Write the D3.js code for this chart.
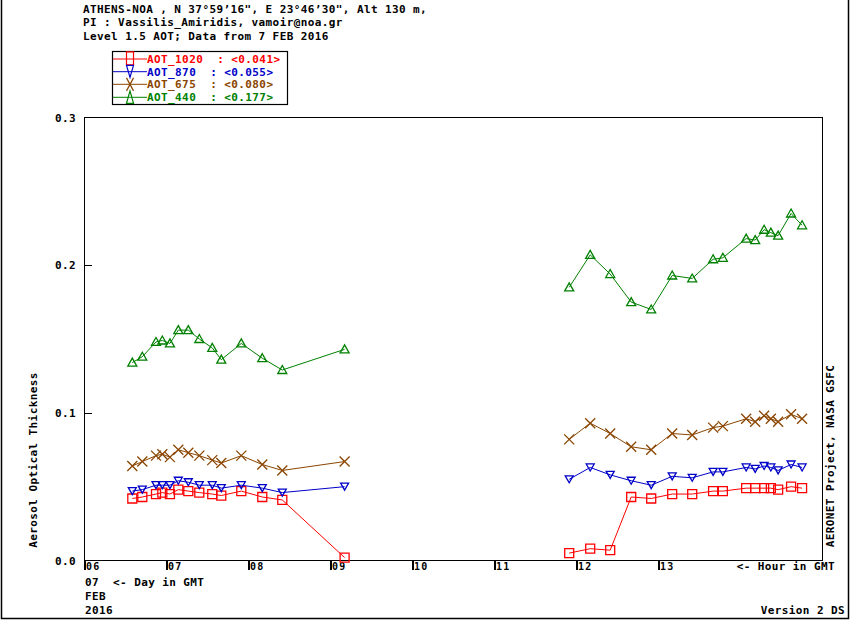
<!DOCTYPE html>
<html>
<head>
<meta charset="utf-8">
<script src="https://cdn.jsdelivr.net/npm/d3@7"></script>
<style>
  body { margin: 0; background: #fff; }
  svg text { font-family: "DejaVu Sans Mono", monospace; font-weight: bold; font-size: 11px; letter-spacing: 0.4px; white-space: pre; }
</style>
</head>
<body>
<svg id="graph" width="850" height="620" xml:space="preserve"></svg>
<script>
/*******************************************************************************************/
// Data (hour of 7 FEB 2016 in GMT, AOT per wavelength)

var hours = [6.583, 6.705, 6.872, 6.949, 7.042, 7.144, 7.266, 7.400, 7.558, 7.668, 7.912, 8.168, 8.412, 9.172,
             11.911, 12.167, 12.411, 12.667, 12.911, 13.167, 13.411, 13.666, 13.785, 14.069, 14.179, 14.288, 14.370, 14.459, 14.617, 14.751];

var aot1020 = [0.042, 0.043, 0.045, 0.046, 0.045, 0.048, 0.047, 0.046, 0.045, 0.044, 0.047, 0.043, 0.041, 0.002,
               0.005, 0.008, 0.007, 0.043, 0.042, 0.045, 0.045, 0.047, 0.047, 0.049, 0.049, 0.049, 0.049, 0.048, 0.050, 0.049];
var aot870  = [0.047, 0.048, 0.051, 0.051, 0.051, 0.054, 0.053, 0.051, 0.051, 0.049, 0.051, 0.049, 0.046, 0.050,
               0.055, 0.063, 0.058, 0.054, 0.051, 0.057, 0.056, 0.060, 0.060, 0.063, 0.062, 0.064, 0.063, 0.061, 0.065, 0.063];
var aot675  = [0.064, 0.067, 0.071, 0.072, 0.070, 0.075, 0.073, 0.071, 0.068, 0.066, 0.071, 0.065, 0.061, 0.067,
               0.082, 0.093, 0.086, 0.077, 0.075, 0.086, 0.085, 0.090, 0.091, 0.096, 0.094, 0.098, 0.096, 0.094, 0.099, 0.096];
var aot440  = [0.134, 0.138, 0.148, 0.149, 0.147, 0.156, 0.156, 0.150, 0.144, 0.136, 0.147, 0.137, 0.129, 0.143,
               0.185, 0.207, 0.194, 0.175, 0.170, 0.193, 0.191, 0.204, 0.205, 0.218, 0.217, 0.224, 0.222, 0.220, 0.235, 0.227];

var seriesNames = ['AOT_1020', 'AOT_870', 'AOT_675', 'AOT_440'];
var seriesMeans = ['0.041', '0.055', '0.080', '0.177'];
var seriesColors = ['#ff0000', '#0000c8', '#8a4500', '#008000'];

var hourTicks = [6, 7, 8, 9, 10, 11, 12, 13];
var hourLabels = ['06', '07', '08', '09', '10', '11', '12', '13'];
var yTicks = [0.0, 0.1, 0.2, 0.3];

var headerLines = ['ATHENS-NOA , N 37\u00b059\u201916", E 23\u00b046\u201930", Alt 130 m,',
                   'PI : Vassilis_Amiridis, vamoir@noa.gr',
                   'Level 1.5 AOT; Data from 7 FEB 2016'];

/*******************************************************************************************/
// Scales, marker shapes

var svg = d3.select('#graph');
var xScale = d3.scaleLinear().domain([6, 15]).range([84.5, 822.5]);
var yScale = d3.scaleLinear().domain([0, 0.3]).range([560.5, 117.5]);

var markers = [
  'M-4.5,-4.5h9v9h-9Z',          // square
  'M-4,-3.5L4,-3.5L0,3.5Z',      // down triangle
  'M-5,-5L5,5M-5,5L5,-5',        // cross
  'M0,-4.5L4.5,3.5L-4.5,3.5Z'    // up triangle
];
var legendMarkers = [
  'M-3.5,-6.5h7v13h-7Z',
  'M-3.5,-6L3.5,-6L0,6Z',
  'M-3.5,-6.5L3.5,6.5M-3.5,6.5L3.5,-6.5',
  'M0,-6.5L3.5,6L-3.5,6Z'
];

var allSeries = [aot1020, aot870, aot675, aot440];
var lineGen = d3.line().x(function(d){ return xScale(d.h) }).y(function(d){ return yScale(d.v) });

/*******************************************************************************************/
// Frame and header

svg.append('path').attr('d', 'M1.5,0V618.5H848.5V0')
   .style('fill', 'none').style('stroke', '#000').style('stroke-width', 1.5);

svg.selectAll('.header').data(headerLines).enter().append('text')
   .attr('x', 83).attr('y', function(d, i){ return 12.5 + i*13.5 }).text(function(d){ return d });

/*******************************************************************************************/
// Axes

svg.append('rect').attr('x', 84.5).attr('y', 117.5).attr('width', 738).attr('height', 443)
   .style('fill', 'none').style('stroke', '#000').style('stroke-width', 1.2).style('shape-rendering', 'crispEdges');

var yAxis = svg.append('g').attr('transform', 'translate(84.5,0)')
  .call(d3.axisRight(yScale).tickValues(yTicks.slice(1, 3)).tickSize(7).tickFormat(''));
yAxis.select('.domain').remove();
yAxis.selectAll('line').style('stroke-width', 1.2).style('shape-rendering', 'crispEdges');

svg.selectAll('.ylab').data(yTicks).enter().append('text')
   .attr('x', 76).attr('y', function(d){ return yScale(d) + 4 })
   .style('text-anchor', 'end').text(function(d){ return d.toFixed(1) });

var xAxis = svg.append('g').attr('transform', 'translate(0,560.5)')
  .call(d3.axisBottom(xScale).tickValues(hourTicks).tickSize(9).tickFormat(''));
xAxis.select('.domain').remove();
xAxis.selectAll('line').style('stroke-width', 1.2).style('shape-rendering', 'crispEdges');

svg.selectAll('.xlab').data(hourTicks).enter().append('text')
   .attr('x', function(d){ return xScale(d) + 1.5 }).attr('y', 570)
   .style('font-size', '10px').style('letter-spacing', '1.2px')
   .text(function(d, i){ return hourLabels[i] });

svg.append('text').attr('x', 835).attr('y', 570).style('text-anchor', 'end').text('<- Hour in GMT');
svg.append('text').attr('x', 85).attr('y', 586).text('07  <- Day in GMT');
svg.append('text').attr('x', 85).attr('y', 600).text('FEB');
svg.append('text').attr('x', 85).attr('y', 614).text('2016');
svg.append('text').attr('x', 845).attr('y', 614).style('text-anchor', 'end').text('Version 2 DS');

svg.append('text').attr('transform', 'translate(37,460) rotate(-90)')
   .style('text-anchor', 'middle').text('Aerosol Optical Thickness');
svg.append('text').attr('transform', 'translate(834,456) rotate(-90)')
   .style('text-anchor', 'middle').text('AERONET Project, NASA GSFC');

/*******************************************************************************************/
// Series: lines broken across the midday gap, then markers

allSeries.forEach(function(vals, k){
  var pts = hours.map(function(h, i){ return { h: h, v: vals[i] } });
  var segs = [[]];
  pts.forEach(function(p, i){
    if (i > 0 && p.h - pts[i-1].h > 2) segs.push([]);
    segs[segs.length-1].push(p);
  });

  var g = svg.append('g');
  g.selectAll('path.seg').data(segs).enter().append('path')
   .attr('d', lineGen).style('fill', 'none').style('stroke', seriesColors[k]).style('stroke-width', 1);

  g.selectAll('path.mk').data(pts).enter().append('path')
   .attr('d', markers[k])
   .attr('transform', function(d){ return 'translate(' + xScale(d.h) + ',' + yScale(d.v) + ')' })
   .style('fill', 'none').style('stroke', seriesColors[k]).style('stroke-width', 1.3);
});

/*******************************************************************************************/
// Legend

var legend = svg.append('g');
legend.append('rect').attr('x', 112.5).attr('y', 51.5).attr('width', 175).attr('height', 53)
   .style('fill', '#fff').style('stroke', '#000').style('stroke-width', 1.2);

var rowY = [59, 71.7, 84.3, 97.3];
seriesNames.forEach(function(name, k){
  legend.append('line').attr('x1', 113).attr('x2', 147).attr('y1', rowY[k]).attr('y2', rowY[k])
    .style('stroke', seriesColors[k]).style('stroke-width', 1);
  legend.append('path').attr('d', legendMarkers[k])
    .attr('transform', 'translate(130,' + (58.4 + k*13) + ')')
    .style('fill', 'none').style('stroke', seriesColors[k]).style('stroke-width', 1.2);
  legend.append('text').attr('x', 147).attr('y', rowY[k] + 3.8)
    .style('fill', seriesColors[k])
    .text(name + '  : <' + seriesMeans[k] + '>');
});
</script>
</body>
</html>
